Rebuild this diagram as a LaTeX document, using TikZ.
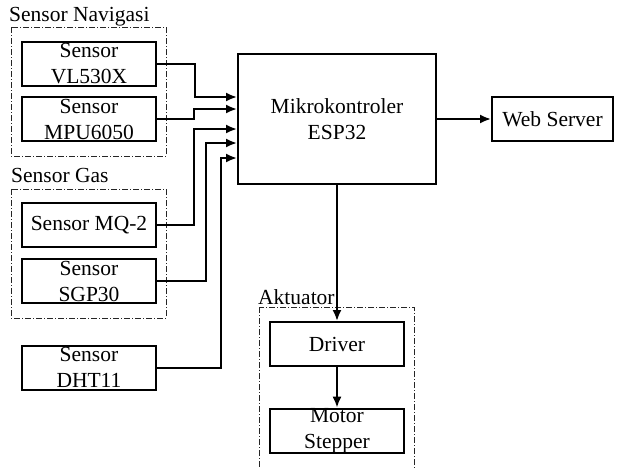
\documentclass[tikz,border=0pt]{standalone}
\usepackage{fontspec}
\setmainfont{Liberation Serif}
\usetikzlibrary{arrows.meta}
\begin{document}
\begin{tikzpicture}[x=1pt,y=-1pt,
  every node/.style={font=\fontsize{21.5}{26}\selectfont},
  blk/.style={draw,line width=2pt,inner sep=0pt,align=center,minimum width=134pt,minimum height=44pt},
  grp/.style={draw=black!85,line width=0.8pt,dash pattern=on 6pt off 2pt on 1pt off 2pt},
  grplbl/.style={anchor=base west,inner sep=0pt},
  arr/.style={line width=2pt,-{Latex[length=11pt,width=9pt]}}]
\useasboundingbox (0,0) rectangle (618,467);
% groups
\draw[grp] (11,27) rectangle (166,156);
\node[grplbl] (lnav) at (9,21) {Sensor Navigasi};
\draw[grp] (11,189) rectangle (166,318);
\node[grplbl] (lgas) at (11,182) {Sensor Gas};
\draw[grp] (259,307) rectangle (414,490);
\node[grplbl] (lakt) at (258,304) {Aktuator};
% blocks
\node[blk] (vl) at (89,63.5) {Sensor\\VL530X};
\node[blk] (mpu) at (89,119) {Sensor\\MPU6050};
\node[blk] (mq) at (89,225) {Sensor MQ-2};
\node[blk] (sgp) at (89,281) {Sensor\\SGP30};
\node[blk] (dht) at (89,367.5) {Sensor\\DHT11};
\node[blk,minimum width=198pt,minimum height=130pt] (esp) at (337,119) {Mikrokontroler\\ESP32};
\node[blk,minimum width=121pt] (web) at (552.5,119) {Web Server};
\node[blk] (drv) at (337,344) {Driver};
\node[blk] (mot) at (337,431) {Motor\\Stepper};
% connectors
\draw[arr] (vl.east) -- ++(38,0) |- ([yshift=22pt]esp.west);
\draw[arr] (mpu.east) -- ++(37,0) |- ([yshift=10pt]esp.west);
\draw[arr] (mq.east) -- ++(37,0) |- ([yshift=-10pt]esp.west);
\draw[arr] (sgp.east) -- ++(49,0) |- ([yshift=-24pt]esp.west);
\draw[arr] (dht.east) -- ++(64,0) |- ([yshift=-39pt]esp.west);
\draw[arr] (esp.east) -- (web.west);
\draw[arr] (esp.south) -- (drv.north);
\draw[arr] (drv.south) -- (mot.north);
\end{tikzpicture}
\end{document}
